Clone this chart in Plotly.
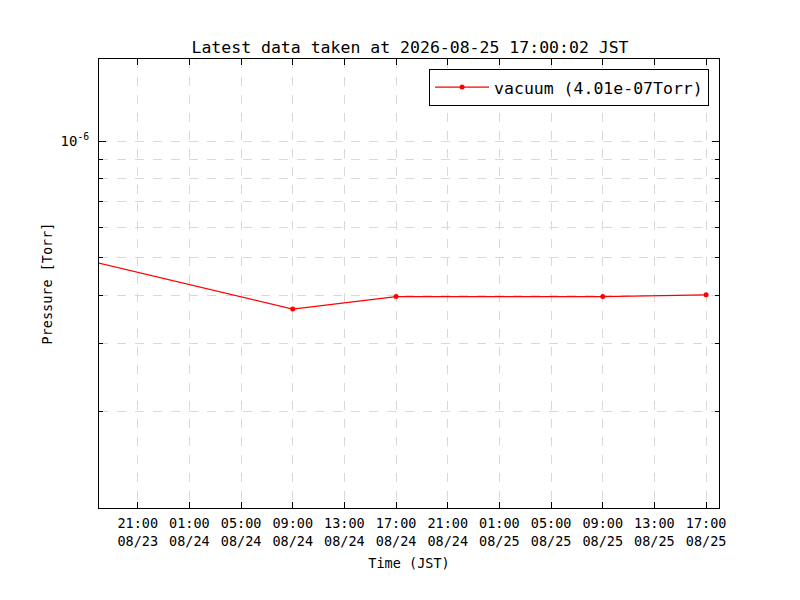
import plotly.graph_objects as go

# readings (JST) and pressure in Torr
times = [
    "2026-08-23 17:00:00",
    "2026-08-24 09:00:00",
    "2026-08-24 17:00:00",
    "2026-08-25 09:00:00",
    "2026-08-25 17:00:02",
]
pressure = [4.93e-07, 3.685e-07, 3.97e-07, 3.97e-07, 4.01e-07]

latest = "2026-08-25 17:00:02"
x_range = ["2026-08-23 18:00:00", "2026-08-25 18:00:00"]
y_minor = [2e-07, 3e-07, 4e-07, 5e-07, 6e-07, 7e-07, 8e-07, 9e-07]

FONT = "DejaVu Sans Mono"

fig = go.Figure()
fig.add_trace(go.Scatter(
    x=times, y=pressure, mode="lines+markers",
    name="vacuum (%.2eTorr)" % pressure[-1],
    line=dict(color="red", width=1.2),
    marker=dict(color="red", size=5),
))

grid = dict(showgrid=True, gridcolor="#d9d9d9", griddash="dash", gridwidth=1)

fig.update_xaxes(
    type="date", range=x_range,
    tick0="2026-08-23 21:00:00", dtick=4 * 3600 * 1000,
    tickformat="%H:%M<br>%m/%d",
    ticks="inside", ticklen=6, tickcolor="black", ticklabelstandoff=3,
    showline=True, linecolor="black", linewidth=1, mirror="allticks",
    tickfont=dict(family=FONT, size=13.5, color="black"),
    title=dict(text="Time (JST)", font=dict(family=FONT, size=13.5, color="black"), standoff=10),
    zeroline=False, **grid,
)
fig.update_yaxes(
    type="log", range=[-6.948, -5.787],
    tickmode="array", tickvals=[1e-06], ticktext=["10<sup>-6</sup>"],
    ticks="inside", ticklen=7, tickcolor="black", ticklabelstandoff=6,
    minor=dict(tickmode="array", tickvals=y_minor, ticks="inside", ticklen=4,
               tickcolor="black", showgrid=True, gridcolor="#d9d9d9", griddash="dash"),
    showline=True, linecolor="black", linewidth=1, mirror="allticks",
    tickfont=dict(family=FONT, size=14, color="black"),
    title=dict(text="Pressure [Torr]", font=dict(family=FONT, size=13.5, color="black"), standoff=4),
    zeroline=False, **grid,
)

# the page body has an 8px margin, so the figure is 8px smaller
fig.update_layout(
    width=792, height=592,
    margin=dict(l=91, r=81, t=51, b=92),
    paper_bgcolor="white", plot_bgcolor="white",
    title=dict(text="Latest data taken at %s JST" % latest, x=0.5076, xanchor="center",
               y=0.934, yanchor="middle",
               font=dict(family=FONT, size=16.5, color="black")),
    showlegend=True,
    legend=dict(x=0.984, y=0.978, xanchor="right", yanchor="top", itemwidth=54,
                bordercolor="black", borderwidth=1, bgcolor="white",
                font=dict(family=FONT, size=16.5, color="black")),
)

fig.write_html("out.html")
